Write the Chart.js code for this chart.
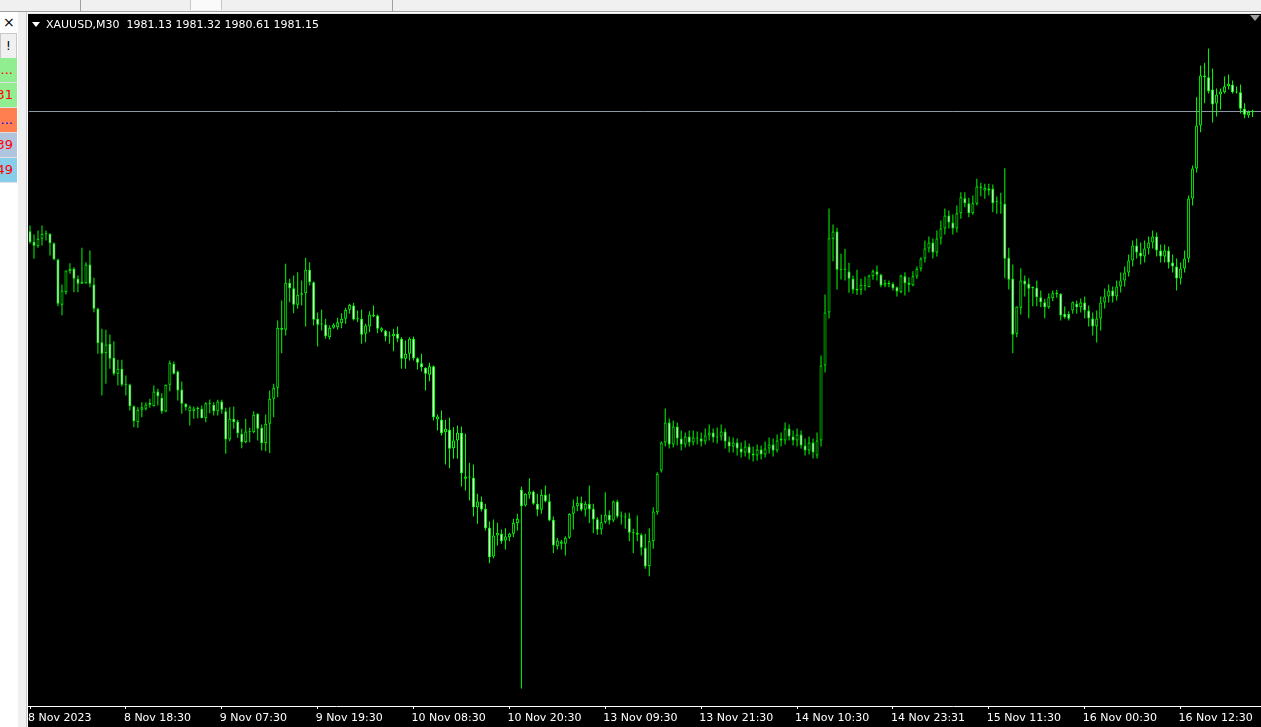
<!DOCTYPE html>
<html>
<head>
<meta charset="utf-8">
<script src="https://cdn.jsdelivr.net/npm/chart.js@4.4.0/dist/chart.umd.min.js"></script>
<style>
  html, body { margin: 0; padding: 0; width: 1261px; height: 727px; overflow: hidden; background: #fff; font-family: "DejaVu Sans", sans-serif; }
  #toolbar { position: absolute; left: 0; top: 0; width: 1261px; height: 11px; background: #f0f0f0; border-bottom: 1px solid #a0a0a0; }
  .sep { position: absolute; top: 0; width: 1px; height: 11px; background: #a0a0a0; }
  #side { position: absolute; left: 0; top: 12px; width: 18px; height: 715px; background: #fff; }
  .cell { position: absolute; left: 0; width: 17px; height: 24px; overflow: hidden; font-size: 13px; line-height: 24px; text-align: right; white-space: nowrap; border-bottom: 1px solid #e0e0e0; }
  .cell span { position: absolute; right: 4px; }
  #splitter { position: absolute; left: 18px; top: 12px; width: 8px; height: 715px; background: #f0f0f0; border-right: 1px solid #c8c8c8; }
  #frame { position: absolute; left: 27px; top: 13px; width: 1234px; height: 714px; background: #000; border-top: 1px solid #e8e8e8; border-left: 1px solid #fff; box-sizing: border-box; }
  #chart { position: absolute; left: 27px; top: 14px; }
  #title { position: absolute; left: 46px; top: 18px; color: #fff; font-size: 11px; line-height: 13px; white-space: pre; }
  #tri { position: absolute; left: 32px; top: 22px; width: 0; height: 0; border-left: 4px solid transparent; border-right: 4px solid transparent; border-top: 5px solid #fff; }
  #shift { position: absolute; left: 1250px; top: 15px; width: 0; height: 0; border-left: 5px solid transparent; border-right: 5px solid transparent; border-top: 6px solid #a0a0a0; }
</style>
</head>
<body>
<div id="toolbar">
  <div class="sep" style="left:80px"></div>
  <div style="position:absolute;left:190px;top:0;width:30px;height:10px;background:#fafafa;border-left:1px solid #c8c8c8;border-right:1px solid #c8c8c8"></div>
  <div class="sep" style="left:392px"></div>
</div>
<div id="side">
  <div style="position:absolute;left:3px;top:2px;font-size:14px;line-height:16px;color:#000">×</div>
  <div class="cell" style="top:21px;background:#f0f0f0;border:1px solid #c8c8c8;width:15px;color:#000;text-align:center;font-size:12px">!</div>
  <div class="cell" style="top:46px;background:#90ee90;color:#f00"><span>...</span></div>
  <div class="cell" style="top:71px;background:#90ee90;color:#f00"><span>1981.31</span></div>
  <div class="cell" style="top:96px;background:#ff7f50;color:#00f"><span>...</span></div>
  <div class="cell" style="top:121px;background:#b0c4de;color:#f00"><span>1980.39</span></div>
  <div class="cell" style="top:146px;background:#87ceeb;color:#f00"><span>1980.49</span></div>
</div>
<div id="splitter"></div>
<div id="frame"></div>
<canvas id="chart" width="1234" height="713"></canvas>
<div id="tri"></div>
<div id="title"></div>
<div id="shift"></div>
<script>
// XAUUSD M30 candles, left to right (prices)
const opens = [
  1969.18, 1968.12, 1967.68, 1968.42, 1968.92, 1968.92, 1967.98, 1966.35, 1961.82, 1963.08,
  1965.18, 1965.42, 1964.42, 1963.92, 1963.98, 1965.85, 1963.85, 1961.42, 1958.08, 1956.98,
  1957.92, 1956.52, 1954.92, 1955.42, 1953.82, 1953.85, 1951.68, 1950.08, 1951.32, 1951.42,
  1951.82, 1951.68, 1953.15, 1952.52, 1951.15, 1953.82, 1955.92, 1955.15, 1953.35, 1951.92,
  1951.18, 1951.18, 1951.42, 1951.42, 1950.48, 1951.88, 1951.82, 1951.18, 1952.15, 1951.18,
  1948.35, 1950.42, 1950.15, 1948.92, 1948.08, 1949.12, 1949.08, 1950.92, 1949.52, 1947.98,
  1949.92, 1952.42, 1953.52, 1959.52, 1959.32, 1964.02, 1963.48, 1961.82, 1962.82, 1962.98,
  1965.32, 1964.08, 1960.42, 1959.88, 1959.85, 1958.58, 1959.52, 1959.58, 1959.98, 1960.42,
  1961.32, 1961.75, 1960.42, 1960.42, 1958.92, 1959.65, 1960.68, 1960.75, 1959.22, 1959.22,
  1958.68, 1958.68, 1958.92, 1958.42, 1956.42, 1956.92, 1958.42, 1956.48, 1955.98, 1955.52,
  1954.82, 1955.68, 1950.35, 1950.32, 1949.08, 1949.32, 1947.48, 1948.25, 1949.02, 1944.42,
  1944.58, 1944.52, 1941.58, 1942.15, 1941.42, 1939.52, 1936.65, 1938.75, 1938.92, 1938.25,
  1938.58, 1938.92, 1939.98, 1943.32, 1941.75, 1942.82, 1943.15, 1941.92, 1941.32, 1942.82,
  1942.18, 1940.32, 1937.68, 1937.92, 1937.92, 1938.52, 1940.92, 1941.68, 1942.02, 1941.32,
  1941.92, 1941.42, 1940.38, 1939.35, 1940.08, 1940.82, 1940.25, 1942.15, 1940.68, 1940.62,
  1940.48, 1939.02, 1938.82, 1938.82, 1937.52, 1935.68, 1938.18, 1941.08,
  1945.25, 1948.05, 1950.05, 1947.85, 1949.65, 1948.45, 1947.85, 1948.65, 1948.05, 1948.55,
  1948.45, 1948.15, 1948.75, 1949.05, 1948.55, 1948.65, 1949.15, 1948.15, 1947.65, 1948.05,
  1947.45, 1947.05, 1947.65, 1946.95, 1946.75, 1947.35, 1946.85, 1947.45, 1947.85, 1947.25,
  1948.25, 1948.25, 1949.45, 1948.65, 1948.25, 1948.85, 1947.75, 1947.25, 1948.05, 1946.75,
  1948.25, 1955.75, 1961.05, 1968.42, 1969.15, 1965.32, 1965.35, 1965.15, 1964.42, 1963.42,
  1963.32, 1963.75, 1963.58, 1964.68, 1965.15, 1964.82, 1963.75, 1963.92, 1963.92, 1963.58,
  1963.08, 1964.68, 1963.82, 1963.75, 1964.65, 1965.42, 1966.45, 1967.45, 1968.05, 1967.05,
  1968.45, 1969.45, 1970.75, 1970.05, 1969.45, 1970.98, 1972.48, 1971.98, 1970.98, 1971.92,
  1973.65, 1973.25, 1973.25, 1973.42, 1972.15, 1971.98, 1971.92, 1966.52, 1964.42, 1958.92,
  1961.52, 1964.25, 1963.92, 1963.52, 1963.52, 1962.58, 1962.08, 1961.58, 1962.48, 1962.92,
  1962.92, 1960.92, 1960.92, 1961.25, 1961.92, 1961.58, 1962.05, 1961.25, 1960.45, 1959.65,
  1960.45, 1962.05, 1962.65, 1963.25, 1962.65, 1963.65, 1964.25, 1965.05, 1966.25, 1967.75,
  1967.05, 1966.65, 1967.45, 1968.05, 1968.65, 1967.25, 1966.65, 1967.25, 1966.05, 1965.65,
  1964.45, 1965.45, 1966.45, 1972.45, 1975.45, 1979.75, 1984.58, 1984.58, 1983.35, 1981.95,
  1982.85, 1983.08, 1983.68, 1983.82, 1983.08, 1983.08, 1981.42, 1980.78, 1981.13
];
const highs = [
  1969.75, 1968.85, 1969.25, 1969.75, 1969.25, 1968.98, 1968.05, 1966.42, 1963.85, 1965.25,
  1965.98, 1965.58, 1964.75, 1967.52, 1966.08, 1967.25, 1964.52, 1961.52, 1959.42, 1959.32,
  1958.85, 1958.18, 1956.32, 1956.32, 1954.75, 1953.92, 1951.75, 1951.58, 1952.08, 1952.08,
  1952.42, 1953.75, 1953.42, 1952.98, 1953.85, 1956.25, 1956.15, 1955.25, 1954.15, 1951.98,
  1951.75, 1951.65, 1951.65, 1951.75, 1952.08, 1952.35, 1952.08, 1952.32, 1952.32, 1951.52,
  1951.58, 1951.65, 1950.32, 1949.42, 1950.42, 1949.52, 1951.18, 1950.98, 1949.85, 1950.85,
  1953.25, 1953.92, 1960.25, 1962.25, 1965.92, 1964.42, 1964.75, 1965.08, 1964.25, 1966.52,
  1966.08, 1964.15, 1961.05, 1961.32, 1960.42, 1959.75, 1959.98, 1960.52, 1960.98, 1961.52,
  1961.92, 1962.02, 1961.25, 1961.35, 1959.92, 1961.18, 1961.75, 1960.85, 1959.58, 1959.32,
  1959.15, 1959.42, 1959.65, 1958.58, 1958.25, 1958.58, 1958.65, 1956.58, 1956.92, 1955.58,
  1956.02, 1955.75, 1950.85, 1951.25, 1950.32, 1950.52, 1949.58, 1949.75, 1949.65, 1948.92,
  1946.02, 1945.85, 1942.92, 1942.65, 1941.92, 1940.15, 1940.35, 1940.02, 1939.35, 1939.48,
  1939.02, 1940.42, 1940.92, 1943.65, 1942.98, 1944.48, 1943.25, 1942.92, 1943.35, 1943.75,
  1942.92, 1940.65, 1938.52, 1938.32, 1938.68, 1940.98, 1942.35, 1942.65, 1942.65, 1942.18,
  1943.75, 1941.92, 1940.58, 1940.85, 1943.08, 1941.25, 1942.25, 1942.32, 1941.15, 1941.02,
  1941.02, 1939.42, 1940.75, 1938.98, 1938.92, 1939.48, 1941.58, 1945.08,
  1948.15, 1951.45, 1950.45, 1950.25, 1950.05, 1949.25, 1949.05, 1949.25, 1949.25, 1949.15,
  1949.05, 1949.45, 1949.85, 1949.45, 1949.55, 1949.85, 1949.45, 1948.65, 1948.55, 1948.45,
  1948.05, 1948.25, 1947.95, 1947.65, 1947.85, 1947.75, 1948.15, 1948.55, 1948.45, 1948.85,
  1949.05, 1950.05, 1949.85, 1949.25, 1949.45, 1949.25, 1948.45, 1948.65, 1948.45, 1949.05,
  1956.75, 1962.85, 1971.45, 1969.85, 1969.52, 1966.92, 1967.42, 1966.02, 1964.75, 1965.32,
  1964.42, 1964.65, 1964.82, 1965.35, 1965.75, 1964.92, 1964.32, 1964.25, 1964.08, 1963.65,
  1964.82, 1965.08, 1964.58, 1965.18, 1965.65, 1966.58, 1968.25, 1968.65, 1968.45, 1969.25,
  1970.25, 1971.45, 1971.25, 1970.85, 1971.75, 1973.08, 1973.08, 1972.52, 1972.75, 1974.42,
  1974.02, 1973.92, 1973.92, 1973.85, 1972.65, 1973.02, 1975.48, 1967.52, 1965.85, 1961.65,
  1965.48, 1964.75, 1964.48, 1963.65, 1964.25, 1963.25, 1962.42, 1962.98, 1963.25, 1963.32,
  1962.98, 1961.65, 1961.18, 1962.15, 1962.25, 1962.45, 1962.65, 1961.75, 1961.05, 1961.25,
  1962.65, 1963.45, 1963.85, 1963.65, 1964.25, 1965.05, 1965.65, 1966.85, 1968.25, 1968.45,
  1968.05, 1968.25, 1968.65, 1969.25, 1969.05, 1967.85, 1967.85, 1967.65, 1966.85, 1966.45,
  1966.05, 1967.25, 1972.75, 1975.75, 1982.58, 1985.75, 1986.02, 1987.45, 1985.45, 1983.45,
  1983.45, 1984.65, 1984.85, 1984.25, 1983.65, 1983.85, 1981.98, 1981.25, 1981.32
];
const lows = [
  1967.92, 1966.42, 1967.52, 1967.75, 1968.25, 1966.75, 1966.32, 1961.68, 1960.78, 1962.85,
  1964.92, 1963.08, 1963.08, 1963.92, 1963.92, 1963.58, 1961.08, 1956.92, 1952.75, 1953.92,
  1955.42, 1954.75, 1953.75, 1953.65, 1952.75, 1951.25, 1949.58, 1949.52, 1950.58, 1951.25,
  1951.52, 1951.65, 1951.75, 1950.92, 1951.08, 1953.18, 1954.85, 1952.25, 1950.92, 1951.25,
  1949.75, 1950.42, 1950.48, 1950.48, 1950.08, 1950.98, 1950.75, 1950.75, 1950.92, 1946.92,
  1948.18, 1949.42, 1948.52, 1947.48, 1947.98, 1948.08, 1948.98, 1948.25, 1947.25, 1947.18,
  1946.98, 1950.58, 1952.58, 1956.98, 1958.75, 1962.08, 1960.98, 1961.42, 1961.75, 1959.65,
  1963.75, 1959.75, 1957.65, 1959.25, 1958.42, 1958.35, 1959.42, 1959.35, 1959.48, 1959.92,
  1960.92, 1960.25, 1960.08, 1957.92, 1958.08, 1959.08, 1960.58, 1958.98, 1959.08, 1958.18,
  1957.92, 1957.18, 1958.08, 1955.42, 1955.42, 1956.25, 1956.25, 1955.35, 1955.15, 1953.25,
  1954.18, 1950.25, 1949.25, 1948.75, 1945.85, 1945.48, 1946.42, 1946.42, 1943.65, 1943.25,
  1942.25, 1940.65, 1939.92, 1941.15, 1939.25, 1935.98, 1936.48, 1937.75, 1937.92, 1937.35,
  1938.18, 1938.58, 1939.25, 1923.45, 1941.65, 1942.42, 1941.82, 1940.68, 1940.92, 1942.08,
  1940.18, 1936.98, 1937.35, 1937.35, 1936.75, 1938.42, 1939.35, 1941.18, 1941.18, 1940.65,
  1939.98, 1938.98, 1938.82, 1938.85, 1939.92, 1939.85, 1940.08, 1940.48, 1939.85, 1939.42,
  1938.18, 1936.98, 1938.18, 1936.75, 1935.42, 1934.68, 1937.42, 1940.82,
  1945.05, 1947.65, 1947.45, 1947.55, 1947.75, 1947.25, 1947.55, 1947.65, 1947.75, 1947.85,
  1947.65, 1947.85, 1948.25, 1948.05, 1947.95, 1948.25, 1947.45, 1947.05, 1947.05, 1946.75,
  1946.55, 1946.65, 1946.35, 1946.15, 1946.25, 1946.35, 1946.55, 1946.95, 1946.65, 1947.05,
  1947.65, 1947.85, 1948.25, 1947.75, 1947.65, 1947.45, 1946.75, 1946.85, 1946.45, 1946.45,
  1947.65, 1955.05, 1960.45, 1966.18, 1963.35, 1964.35, 1964.25, 1963.02, 1962.92, 1962.82,
  1962.82, 1963.25, 1963.58, 1964.32, 1964.25, 1963.58, 1963.58, 1963.58, 1963.25, 1962.65,
  1962.98, 1962.75, 1963.08, 1963.68, 1964.42, 1965.15, 1966.05, 1967.05, 1966.45, 1966.65,
  1967.85, 1968.85, 1969.45, 1968.85, 1969.05, 1970.42, 1971.58, 1970.58, 1970.82, 1971.75,
  1972.68, 1972.42, 1972.75, 1971.08, 1970.92, 1970.92, 1964.48, 1963.35, 1956.98, 1958.58,
  1960.85, 1962.65, 1960.48, 1961.68, 1961.68, 1961.58, 1960.48, 1961.42, 1962.18, 1962.52,
  1960.25, 1960.42, 1960.25, 1960.92, 1960.92, 1961.05, 1960.45, 1959.65, 1958.75, 1958.05,
  1959.25, 1961.45, 1962.05, 1962.05, 1962.25, 1963.05, 1963.65, 1964.65, 1965.65, 1966.45,
  1965.85, 1966.05, 1966.85, 1967.45, 1966.65, 1966.05, 1966.05, 1965.45, 1965.05, 1963.25,
  1963.85, 1965.05, 1966.05, 1971.75, 1975.05, 1979.08, 1981.98, 1982.95, 1980.05, 1980.65,
  1981.35, 1982.95, 1983.35, 1982.95, 1982.95, 1980.95, 1980.48, 1980.52, 1980.61
];
const closes = [
  1968.08, 1967.72, 1968.42, 1968.92, 1968.88, 1967.98, 1966.35, 1961.92, 1963.25, 1965.25,
  1965.42, 1964.42, 1963.92, 1964.15, 1965.85, 1963.92, 1961.42, 1957.98, 1956.92, 1957.85,
  1956.42, 1954.92, 1955.42, 1953.82, 1953.92, 1951.68, 1950.18, 1951.32, 1951.58, 1951.85,
  1952.02, 1953.15, 1952.68, 1951.15, 1953.82, 1956.02, 1954.92, 1953.25, 1951.92, 1951.58,
  1951.58, 1951.45, 1951.40, 1950.48, 1951.98, 1951.92, 1951.18, 1952.15, 1951.32, 1948.35,
  1950.42, 1950.08, 1948.98, 1948.08, 1949.15, 1949.15, 1950.82, 1949.42, 1947.98, 1949.92,
  1952.42, 1953.52, 1959.52, 1959.32, 1964.02, 1963.48, 1961.82, 1962.82, 1962.98, 1965.32,
  1964.08, 1960.32, 1959.82, 1959.85, 1958.68, 1959.52, 1959.82, 1960.08, 1960.42, 1961.32,
  1961.82, 1960.35, 1960.38, 1958.82, 1959.75, 1960.85, 1960.82, 1959.42, 1959.48, 1958.65,
  1958.65, 1958.92, 1958.42, 1956.42, 1956.92, 1958.42, 1956.48, 1956.02, 1955.58, 1954.92,
  1955.68, 1950.58, 1950.65, 1948.98, 1949.42, 1947.42, 1948.25, 1949.02, 1944.98, 1944.65,
  1944.55, 1941.58, 1942.15, 1941.35, 1939.48, 1936.58, 1938.75, 1939.02, 1938.18, 1938.65,
  1938.92, 1940.02, 1940.42, 1941.68, 1942.92, 1943.15, 1941.92, 1941.32, 1942.82, 1942.18,
  1940.25, 1937.75, 1938.25, 1938.15, 1938.52, 1940.92, 1941.68, 1942.02, 1941.32, 1941.92,
  1941.35, 1940.35, 1939.32, 1940.08, 1940.82, 1940.25, 1942.15, 1940.65, 1940.65, 1940.55,
  1939.02, 1938.98, 1939.02, 1937.52, 1935.65, 1938.18, 1941.15, 1944.92,
  1948.05, 1950.05, 1947.85, 1949.65, 1948.45, 1947.85, 1948.65, 1948.05, 1948.55, 1948.45,
  1948.15, 1948.75, 1949.05, 1948.55, 1948.65, 1949.15, 1948.15, 1947.65, 1948.05, 1947.45,
  1947.05, 1947.65, 1946.95, 1946.75, 1947.35, 1946.85, 1947.45, 1947.85, 1947.25, 1948.25,
  1948.45, 1949.45, 1948.65, 1948.25, 1948.85, 1947.75, 1947.25, 1948.05, 1947.05, 1948.25,
  1955.75, 1961.05, 1968.48, 1969.15, 1965.32, 1965.42, 1965.32, 1964.42, 1963.32, 1963.25,
  1963.82, 1963.72, 1964.75, 1965.18, 1964.82, 1963.75, 1964.02, 1963.89, 1963.48, 1963.15,
  1964.75, 1963.98, 1964.02, 1964.68, 1965.42, 1966.45, 1967.45, 1968.05, 1967.05, 1968.45,
  1969.45, 1970.75, 1970.05, 1969.45, 1970.98, 1972.58, 1971.98, 1970.98, 1971.98, 1973.65,
  1973.52, 1973.52, 1973.45, 1971.98, 1972.12, 1971.95, 1966.42, 1964.32, 1958.82, 1961.65,
  1964.25, 1963.85, 1963.42, 1963.49, 1962.58, 1962.08, 1961.58, 1962.58, 1962.98, 1962.89,
  1960.75, 1960.58, 1960.42, 1962.08, 1961.58, 1962.05, 1961.25, 1960.45, 1959.65, 1960.45,
  1962.05, 1962.65, 1963.25, 1962.65, 1963.65, 1964.25, 1965.05, 1966.25, 1967.75, 1967.05,
  1966.65, 1967.45, 1968.05, 1968.65, 1967.25, 1966.65, 1967.25, 1966.05, 1965.65, 1964.45,
  1965.45, 1966.45, 1972.45, 1975.45, 1979.75, 1984.75, 1984.75, 1983.18, 1981.85, 1982.85,
  1983.15, 1983.68, 1983.92, 1983.08, 1983.05, 1981.42, 1980.82, 1981.10, 1981.15
];
// time axis: one label every 24 bars
const timeLabels = ['8 Nov 2023', '8 Nov 18:30', '9 Nov 07:30', '9 Nov 19:30', '10 Nov 08:30', '10 Nov 20:30',
  '13 Nov 09:30', '13 Nov 21:30', '14 Nov 10:30', '14 Nov 23:31', '15 Nov 11:30', '16 Nov 00:30', '16 Nov 12:30'];
const barsPerLabel = 24;
const symbol = 'XAUUSD,M30';

const priceMin = 1921.70;
const priceMax = 1990.90;
const barsVisible = 308.5;
const firstBar = -0.375;

const last = opens.length - 1;
const lastQuote = [opens[last], highs[last], lows[last], closes[last]];
document.getElementById('title').textContent = symbol + '  ' + lastQuote.map(v => v.toFixed(2)).join(' ');

const green = '#00ff00';
const wickData = opens.map((o, i) => ({ x: i, y: [lows[i], highs[i]] }));
const bodyData = opens.map((o, i) => ({ x: i, y: [o, closes[i]] }));
const bodyFill = opens.map((o, i) => closes[i] < o ? '#ffffff' : '#000000');
const bid = closes[last];

new Chart(document.getElementById('chart').getContext('2d'), {
  type: 'bar',
  data: {
    datasets: [
      {
        type: 'line',
        data: [{ x: firstBar, y: bid }, { x: firstBar + barsVisible, y: bid }],
        borderColor: '#8c98a6',
        borderWidth: 1,
        pointRadius: 0,
        order: 3
      },
      {
        data: wickData,
        backgroundColor: green,
        borderWidth: 0,
        barThickness: 1,
        grouped: false,
        inflateAmount: 0,
        order: 2
      },
      {
        data: bodyData,
        backgroundColor: bodyFill,
        borderColor: green,
        borderWidth: 1,
        borderSkipped: false,
        barThickness: 3,
        minBarLength: 1,
        grouped: false,
        inflateAmount: 0,
        order: 1
      }
    ]
  },
  options: {
    responsive: false,
    animation: false,
    layout: { padding: 0 },
    plugins: { legend: { display: false }, tooltip: { enabled: false } },
    scales: {
      x: {
        type: 'linear',
        min: firstBar,
        max: firstBar + barsVisible,
        offset: false,
        afterFit: function (scale) { scale.height = 21 },
        border: { display: true, color: '#ffffff', width: 1 },
        grid: { display: true, offset: false, drawOnChartArea: false, drawTicks: true, tickLength: 3, color: '#ffffff' },
        ticks: {
          stepSize: barsPerLabel,
          includeBounds: false,
          autoSkip: false,
          maxRotation: 0,
          minRotation: 0,
          align: 'start',
          labelOffset: -2,
          padding: 3,
          color: '#ffffff',
          font: { family: 'DejaVu Sans', size: 11 },
          callback: function (v) {
            return timeLabels[v / barsPerLabel] || ''
          }
        }
      },
      y: {
        display: false,
        min: priceMin,
        max: priceMax
      }
    }
  }
});
</script>
</body>
</html>
